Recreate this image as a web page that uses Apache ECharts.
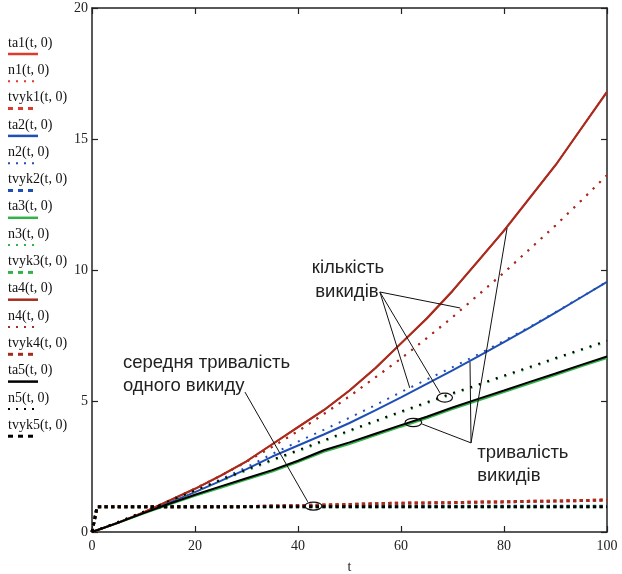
<!DOCTYPE html>
<html>
<head>
<meta charset="utf-8">
<script src="https://cdn.jsdelivr.net/npm/echarts@6/dist/echarts.min.js"></script>
<style>
  html, body { margin: 0; padding: 0; background: #fff; }
  #chart { width: 622px; height: 574px; }
</style>
</head>
<body>
<div id="chart"></div>
<script>
// час t
var tValues = [0, 5, 10, 15, 20, 25, 30, 35, 40, 45, 50, 55, 60, 65, 70, 75, 80, 85, 90, 95, 100]
// сумарна тривалість викидів
var ta1 = [0, 0.35, 0.75, 1.2, 1.65, 2.15, 2.7, 3.35, 4.0, 4.65, 5.4, 6.25, 7.2, 8.15, 9.2, 10.35, 11.5, 12.75, 14.0, 15.4, 16.8]
var ta2 = [0, 0.36, 0.73, 1.12, 1.52, 1.95, 2.4, 2.88, 3.3, 3.72, 4.16, 4.64, 5.14, 5.65, 6.17, 6.7, 7.25, 7.8, 8.37, 8.96, 9.55]
var ta3 = [0, 0.34, 0.7, 1.05, 1.38, 1.69, 2.0, 2.31, 2.67, 3.06, 3.36, 3.69, 4.02, 4.34, 4.69, 5.02, 5.34, 5.67, 5.99, 6.32, 6.64]
var ta4 = [0, 0.35, 0.75, 1.2, 1.65, 2.15, 2.7, 3.35, 4.0, 4.65, 5.4, 6.25, 7.2, 8.15, 9.2, 10.35, 11.5, 12.75, 14.0, 15.4, 16.8]
var ta5 = [0, 0.35, 0.72, 1.08, 1.42, 1.74, 2.05, 2.36, 2.72, 3.12, 3.42, 3.75, 4.08, 4.4, 4.75, 5.08, 5.4, 5.73, 6.05, 6.38, 6.7]
// кількість викидів
var n1 = [0, 0.35, 0.75, 1.2, 1.65, 2.15, 2.68, 3.25, 3.85, 4.5, 5.18, 5.9, 6.62, 7.4, 8.2, 9.05, 9.9, 10.8, 11.7, 12.65, 13.62]
var n2 = [0, 0.37, 0.75, 1.15, 1.57, 2.01, 2.47, 2.98, 3.45, 3.9, 4.36, 4.84, 5.34, 5.82, 6.29, 6.78, 7.3, 7.83, 8.39, 8.97, 9.55]
var n3 = [0, 0.37, 0.76, 1.15, 1.55, 1.94, 2.34, 2.72, 3.08, 3.46, 3.84, 4.2, 4.56, 4.91, 5.26, 5.59, 5.93, 6.26, 6.6, 6.93, 7.26]
var n4 = [0, 0.35, 0.75, 1.2, 1.65, 2.15, 2.68, 3.25, 3.85, 4.5, 5.18, 5.9, 6.62, 7.4, 8.2, 9.05, 9.9, 10.8, 11.7, 12.65, 13.62]
var n5 = [0, 0.38, 0.78, 1.18, 1.58, 1.98, 2.38, 2.76, 3.12, 3.5, 3.88, 4.24, 4.6, 4.95, 5.3, 5.63, 5.97, 6.3, 6.64, 6.97, 7.3]
// середня тривалість одного викиду
var tvykT = [0, 1, 5, 10, 15, 20, 25, 30, 35, 40, 45, 50, 55, 60, 65, 70, 75, 80, 85, 90, 95, 100]
var tvyk1 = [0, 0.96, 0.96, 0.96, 0.96, 0.96, 0.96, 0.97, 0.99, 1.01, 1.03, 1.05, 1.08, 1.1, 1.11, 1.12, 1.14, 1.15, 1.17, 1.18, 1.2, 1.22]
var tvyk2 = [0, 0.96, 0.96, 0.96, 0.96, 0.96, 0.96, 0.97, 0.98, 0.985, 0.985, 0.985, 0.985, 0.985, 0.985, 0.985, 0.985, 0.985, 0.985, 0.985, 0.985, 0.985]
var tvyk3 = [0, 0.96, 0.96, 0.96, 0.96, 0.96, 0.96, 0.96, 0.96, 0.96, 0.96, 0.96, 0.96, 0.96, 0.96, 0.96, 0.96, 0.96, 0.96, 0.96, 0.96, 0.96]
var tvyk4 = [0, 0.96, 0.96, 0.96, 0.96, 0.96, 0.96, 0.97, 0.99, 1.01, 1.03, 1.05, 1.08, 1.1, 1.11, 1.12, 1.14, 1.15, 1.17, 1.18, 1.2, 1.22]
var tvyk5 = [0, 0.96, 0.96, 0.96, 0.96, 0.96, 0.96, 0.96, 0.96, 0.96, 0.96, 0.96, 0.96, 0.96, 0.96, 0.96, 0.96, 0.96, 0.96, 0.96, 0.96, 0.96]

var seriesNames = ['ta1(t, 0)', 'n1(t, 0)', 'tvyk1(t, 0)', 'ta2(t, 0)', 'n2(t, 0)', 'tvyk2(t, 0)',
  'ta3(t, 0)', 'n3(t, 0)', 'tvyk3(t, 0)', 'ta4(t, 0)', 'n4(t, 0)', 'tvyk4(t, 0)',
  'ta5(t, 0)', 'n5(t, 0)', 'tvyk5(t, 0)']
var seriesValues = [ta1, n1, tvyk1, ta2, n2, tvyk2, ta3, n3, tvyk3, ta4, n4, tvyk4, ta5, n5, tvyk5]
var groupColors = ['#dd3b2e', '#1f4fb5', '#33b249', '#a52c1e', '#000000']

var serif = '"Liberation Serif", "DejaVu Serif", serif'
var sans = '"Liberation Sans", Arial, sans-serif'

function pairs (xs, ys) {
  return xs.map(function (x, i) { return [x, ys[i]] })
}

var series = seriesValues.map(function (vals, i) {
  var kind = i % 3 // 0 - суцільна, 1 - точки, 2 - штрихи
  var style = { color: groupColors[Math.floor(i / 3)], width: 2, type: 'solid' }
  if (kind === 1) { style.type = [2, 7]; style.width = 2 }
  if (kind === 2) { style.type = [3.3, 3.3]; style.width = 3 }
  return {
    name: seriesNames[i],
    type: 'line',
    data: pairs(kind === 2 ? tvykT : tValues, vals),
    showSymbol: false,
    lineStyle: style,
    color: style.color,
    z: 2 + i,
    animation: false
  }
})

var axisLine = { show: true, onZero: false, lineStyle: { color: '#222', width: 1.5 } }
var axisTick = { show: true, inside: true, length: 6, lineStyle: { color: '#222', width: 1.2 } }

var option = {
  animation: false,
  grid: { left: 92, right: 15, top: 8, bottom: 42, outerBoundsMode: 'none' },
  xAxis: [{
    type: 'value', min: 0, max: 100, interval: 20, position: 'bottom',
    name: 't', nameLocation: 'middle', nameGap: 28,
    nameTextStyle: { fontFamily: serif, fontSize: 14, color: '#222' },
    axisLine: axisLine, axisTick: axisTick, splitLine: { show: false },
    axisLabel: { fontFamily: serif, fontSize: 14, color: '#222', margin: 7 }
  }, {
    type: 'value', min: 0, max: 100, interval: 20, position: 'top',
    axisLine: axisLine, axisTick: axisTick, splitLine: { show: false },
    axisLabel: { show: false }
  }],
  yAxis: [{
    type: 'value', min: 0, max: 20, interval: 5, position: 'left',
    axisLine: axisLine, axisTick: axisTick, splitLine: { show: false },
    axisLabel: { fontFamily: serif, fontSize: 14, color: '#222', margin: 4 }
  }, {
    type: 'value', min: 0, max: 20, interval: 5, position: 'right',
    axisLine: axisLine, axisTick: axisTick, splitLine: { show: false },
    axisLabel: { show: false }
  }],
  series: series
}

var myChart = echarts.init(document.getElementById('chart'))
myChart.setOption(option)

// легенда зліва: назва, під нею зразок лінії
var graphics = []
seriesNames.forEach(function (name, i) {
  var y = 43 + i * 27.3
  var kind = i % 3
  graphics.push({
    type: 'text', left: 8, top: y - 7,
    style: { text: name, font: '14px ' + serif, fill: '#111' }
  })
  var ls = { stroke: groupColors[Math.floor(i / 3)], lineWidth: 2.5 }
  if (kind === 1) { ls.lineDash = [2, 6]; ls.lineWidth = 2 }
  if (kind === 2) { ls.lineDash = [5, 5]; ls.lineWidth = 3 }
  graphics.push({
    type: 'line', shape: { x1: 8, y1: y + 11, x2: 38, y2: y + 11 }, style: ls
  })
})

// підписи та виноски в координатах даних
function px (t, v) {
  return myChart.convertToPixel({ xAxisIndex: 0, yAxisIndex: 0 }, [t, v])
}
function addText (str, t, v, align) {
  var p = px(t, v)
  graphics.push({
    type: 'text', x: p[0], y: p[1],
    style: { text: str, font: '18.5px ' + sans, fill: '#222', align: align, verticalAlign: 'middle' }
  })
}
function addLine (a, b) {
  var p1 = px(a[0], a[1])
  var p2 = px(b[0], b[1])
  graphics.push({
    type: 'line', shape: { x1: p1[0], y1: p1[1], x2: p2[0], y2: p2[1] },
    style: { stroke: '#111', lineWidth: 1 }, z: 50
  })
}
function addEllipse (t, v, rx, ry) {
  var p = px(t, v)
  graphics.push({
    type: 'ellipse', shape: { cx: p[0], cy: p[1], rx: rx, ry: ry },
    style: { fill: 'none', stroke: '#111', lineWidth: 1.2 }, z: 50
  })
}

addText('кількість', 49.7, 10.08, 'center')
addText('викидів', 49.5, 9.16, 'center')
addText('середня тривалість', 6.0, 6.45, 'left')
addText('одного викиду', 6.0, 5.57, 'left')
addText('тривалість', 74.8, 3.02, 'left')
addText('викидів', 74.8, 2.14, 'left')

var vA = [55.9, 9.16]
addLine(vA, [71.5, 8.55])
addLine(vA, [61.7, 5.5])
addLine(vA, [67.6, 5.3])
addEllipse(68.5, 5.13, 7.7, 4.5)

var vB = [73.6, 3.4]
addLine(vB, [80.6, 11.6])
addLine(vB, [73.4, 6.49])
addLine(vB, [64.1, 4.12])
addEllipse(62.4, 4.18, 8.3, 4.2)

addLine([29.7, 5.34], [41.9, 1.15])
addEllipse(43.0, 0.99, 8.5, 4)

myChart.setOption({ graphic: graphics })
</script>
</body>
</html>
